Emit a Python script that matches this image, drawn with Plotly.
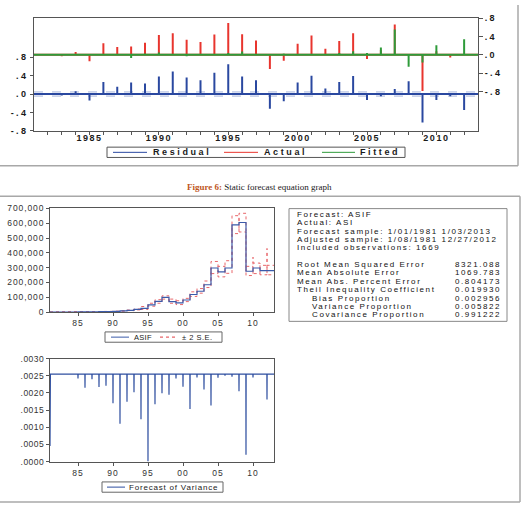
import plotly.graph_objects as go

W, H = 532, 508

# ---------------- Top panel: Residual / Actual / Fitted (year-start spikes) ----------------
spike_years = list(range(1982, 2013))
residual = [0.01, -0.03, 0.06, -0.14, 0.26, 0.16, 0.25, 0.23, 0.38, 0.49, 0.36, 0.30, 0.46, 0.65,
            0.38, 0.30, -0.32, -0.16, 0.25, 0.40, 0.12, 0.26, 0.39, -0.13, -0.05, 0.11, 0.28,
            -0.62, -0.13, -0.05, -0.35]
actual = [0.01, -0.03, 0.06, -0.14, 0.25, 0.17, 0.18, 0.26, 0.43, 0.47, 0.33, 0.28, 0.44, 0.69,
          0.45, 0.31, -0.31, -0.13, 0.24, 0.42, 0.13, 0.30, 0.47, -0.09, 0.11, 0.66, 0.02,
          -0.79, 0.08, -0.06, -0.01]
fitted = [0.0, 0.0, 0.0, 0.0, -0.01, 0.01, -0.07, 0.03, 0.05, -0.02, -0.03, -0.02, -0.02, 0.04,
          0.07, 0.01, 0.01, 0.03, -0.01, 0.02, 0.01, 0.04, 0.08, 0.04, 0.16, 0.55, -0.26,
          -0.17, 0.21, -0.01, 0.34]
residual_se = 0.045
top_tick_vals = [-0.8, -0.4, 0.0, 0.4, 0.8]
top_tick_text = ["-.8", "-.4", ".0", ".4", ".8"]
year_labels = {1985: "1985", 1990: "1990", 1995: "1995", 2000: "2000", 2005: "2005", 2010: "2010"}

# ---------------- Forecast panel: ASIF with +/- 2 S.E. ----------------
asif_years = list(range(1981, 2013))
asif = [700, 800, 900, 1000, 1200, 1500, 2000, 3000, 4000, 5000, 8000, 12000, 18000, 26000,
        49000, 73000, 99000, 71000, 62000, 82000, 119000, 141000, 185000, 298000, 272000,
        298000, 589000, 605000, 276000, 298000, 280000, 280000]
se_upper = [800, 900, 1000, 1100, 1400, 1700, 2300, 3400, 4500, 5700, 9000, 14000, 21000, 38000,
            60000, 84000, 110000, 88000, 77000, 93000, 137000, 159000, 210000, 342000, 309000,
            347000, 651000, 667000, 309000, 331000, 316000, 316000]
se_lower = [600, 700, 800, 900, 1000, 1300, 1700, 2600, 3500, 4300, 7000, 10000, 15000, 18000,
            40000, 60000, 88000, 60000, 51000, 71000, 106000, 128000, 166000, 260000, 238000,
            262000, 530000, 541000, 247000, 260000, 252000, 252000]
upper_spike_years = [2010, 2012]
upper_spike_vals = [371000, 430000]
asif_tick_vals = [0, 100000, 200000, 300000, 400000, 500000, 600000, 700000]
short_ticks = [1985, 1990, 1995, 2000, 2005, 2010]
short_labels = ["85", "90", "95", "00", "05", "10"]

# ---------------- Variance panel ----------------
var_level = 0.00255
var_first_weeks = [0.00045, 0.0016, 0.0023]
var_dip_years = list(range(1985, 2013))
var_dips = [0.00242, 0.00215, 0.0024, 0.00217, 0.00221, 0.0017, 0.0011, 0.00174, 0.00202,
            0.00123, 0.0000, 0.00167, 0.00199, 0.00195, 0.00242, 0.00218, 0.00153, 0.00245,
            0.0021, 0.00163, 0.00244, 0.0025, 0.00247, 0.00205, 0.0002, 0.00245, 0.00255,
            0.00181]
var_tick_vals = [0, 0.0005, 0.001, 0.0015, 0.002, 0.0025, 0.003]
var_tick_text = [".0000", ".0005", ".0010", ".0015", ".0020", ".0025", ".0030"]

# ---------------- Forecast evaluation statistics ----------------
info_lines = ["Forecast: ASIF", "Actual: ASI", "Forecast sample: 1/01/1981 1/03/2013",
              "Adjusted sample: 1/08/1981 12/27/2012", "Included observations: 1669"]
stat_names = ["Root Mean Squared Error", "Mean Absolute Error", "Mean Abs. Percent Error",
              "Theil Inequality Coefficient", "Bias Proportion", "Variance Proportion",
              "Covariance Proportion"]
stat_values = ["8321.088", "1069.783", "0.804173", "0.019930", "0.002956", "0.005822", "0.991222"]
stat_indent = [False, False, False, False, True, True, True]

# ---------------- colours / fonts ----------------
BLUE = "#2A48A0"
RED = "#E8352E"
GREEN = "#2E9B3A"
AX = "#555555"
FRAME = "#A8A8A8"
FONT = "Liberation Sans"
TXT = "#1A1A1A"


def sp(s, ls, bold=False):
    """text with letter spacing (EViews-style tracking)"""
    if not s:
        return ""
    t = '<span style="letter-spacing:%.2fpx">%s</span>' % (ls, s)
    return "<b>%s</b>" % t if bold else t


def px(x):
    return x / W


def py(y):
    return 1 - y / H


def spike_path(years, vals, x0, x1):
    xs, ys = [x0], [0]
    for yr, v in zip(years, vals):
        xs += [yr, yr, yr]
        ys += [0, v, 0]
    xs.append(x1)
    ys.append(0)
    return xs, ys


def band_path(years, level, band, spikes):
    xs, ys = [], []
    for yr, lv, b in zip(years, level, band):
        xs.append(yr)
        ys.append(lv)
        if yr in spikes:
            xs += [yr, yr]
            ys += [spikes[yr], lv]
        xs += [yr, yr + 1]
        ys += [b, b]
    return xs, ys


fig = go.Figure()

# ---- top panel traces ----
for s in (residual_se, -residual_se):
    fig.add_trace(go.Scatter(x=[1981, 2013], y=[s, s], mode="lines",
                             line=dict(color="#A6B4DA", width=1, dash="dash"),
                             xaxis="x", yaxis="y", hoverinfo="skip"))
rx, ry = spike_path(spike_years, residual, 1981, 2013)
fig.add_trace(go.Scatter(x=rx, y=ry, mode="lines", name="Residual",
                         line=dict(color=BLUE, width=2), xaxis="x", yaxis="y"))
ax_, ay_ = spike_path(spike_years, actual, 1981, 2013)
fig.add_trace(go.Scatter(x=ax_, y=ay_, mode="lines", name="Actual",
                         line=dict(color=RED, width=2), xaxis="x", yaxis="y2"))
fx, fy = spike_path(spike_years, fitted, 1981, 2013)
fig.add_trace(go.Scatter(x=fx, y=fy, mode="lines", name="Fitted",
                         line=dict(color=GREEN, width=2), xaxis="x", yaxis="y2"))

# ---- forecast panel traces ----
spk = dict(zip(upper_spike_years, upper_spike_vals))
ux, uy = band_path(asif_years, asif, se_upper, spk)
lx, ly = band_path(asif_years, asif, se_lower, {})
fig.add_trace(go.Scatter(x=ux, y=uy, mode="lines", name="± 2 S.E.",
                         line=dict(color="#E8676B", width=1, dash="dot"), xaxis="x2", yaxis="y3"))
fig.add_trace(go.Scatter(x=lx, y=ly, mode="lines", showlegend=False,
                         line=dict(color="#E8676B", width=1, dash="dot"), xaxis="x2", yaxis="y3"))
fig.add_trace(go.Scatter(x=asif_years + [2013], y=asif + [asif[-1]], mode="lines", name="ASIF",
                         line=dict(color="#3B5BAA", width=1.2, shape="hv"), xaxis="x2", yaxis="y3"))

# ---- variance panel trace ----
vx = [1981 + i / 52 for i in range(len(var_first_weeks))]
vy = list(var_first_weeks)
vx.append(1981 + len(var_first_weeks) / 52)
vy.append(var_level)
for yr, d in zip(var_dip_years, var_dips):
    vx += [yr - 1 / 52, yr, yr + 1 / 52]
    vy += [var_level, d, var_level]
vx.append(2013)
vy.append(var_level)
fig.add_trace(go.Scatter(x=vx, y=vy, mode="lines", name="Forecast of Variance",
                         line=dict(color="#2F4FA0", width=1.2), xaxis="x3", yaxis="y4"))

axis_common = dict(showline=True, linecolor=AX, linewidth=1, mirror=True, showgrid=False,
                   zeroline=False, ticks="outside", ticklen=3, tickcolor=AX, tickwidth=1)

yrs_all = list(range(1982, 2013))
top_font = dict(size=9, family=FONT, color=TXT)
low_font = dict(size=8.5, family=FONT, color="#333")
fig.update_layout(
    width=W, height=H, margin=dict(l=0, r=0, t=0, b=0),
    paper_bgcolor="white", plot_bgcolor="white", showlegend=False,
    font=dict(family=FONT, color=TXT),
    xaxis=dict(domain=[px(34), px(478)], range=[1981, 2013], anchor="y",
               tickvals=yrs_all, ticktext=[sp(year_labels.get(v, ""), 1.5, True) for v in yrs_all],
               tickfont=top_font, ticklabelstandoff=-5, **axis_common),
    yaxis=dict(domain=[py(128.3), py(13.3)], range=[-0.8, 1.653], anchor="x",
               tickvals=top_tick_vals, ticktext=[sp(t, 2.3, True) for t in top_tick_text],
               tickfont=top_font, **axis_common),
    yaxis2=dict(overlaying="y", side="right", range=[-1.653, 0.8], anchor="x",
                tickvals=top_tick_vals, ticktext=[sp(t, 2.3, True) for t in top_tick_text],
                tickfont=top_font,
                showline=True, linecolor=AX, showgrid=False, zeroline=False,
                ticks="outside", ticklen=4, tickcolor=AX),
    xaxis2=dict(domain=[px(50), px(274)], range=[1981, 2013], anchor="y3",
                tickvals=short_ticks, ticktext=[sp(t, 1.0) for t in short_labels],
                tickfont=low_font, **axis_common),
    yaxis3=dict(domain=[py(313.3), py(207.5)], range=[0, 700000], anchor="x2",
                tickvals=asif_tick_vals, ticktext=[sp(f"{v:,}", 0.9) for v in asif_tick_vals],
                tickfont=low_font, **axis_common),
    xaxis3=dict(domain=[px(50), px(274)], range=[1981, 2013], anchor="y4",
                tickvals=short_ticks, ticktext=[sp(t, 1.0) for t in short_labels],
                tickfont=low_font, **axis_common),
    yaxis4=dict(domain=[py(465.7), py(360.7)], range=[0, 0.003], anchor="x3",
                tickvals=var_tick_vals, ticktext=[sp(t, 0.5) for t in var_tick_text],
                tickfont=low_font, **axis_common),
)

shapes = []
annotations = []


def line_shape(x0, y0, x1, y1, color, width=1, dash="solid"):
    shapes.append(dict(type="line", xref="paper", yref="paper", x0=px(x0), y0=py(y0),
                       x1=px(x1), y1=py(y1), line=dict(color=color, width=width, dash=dash)))


def rect_shape(x0, y0, x1, y1, color, width=1):
    shapes.append(dict(type="rect", xref="paper", yref="paper", x0=px(x0), y0=py(y0),
                       x1=px(x1), y1=py(y1), line=dict(color=color, width=width)))


def text(x, y, s, size, anchor="left", color=TXT, family=FONT):
    annotations.append(dict(xref="paper", yref="paper", x=px(x), y=py(y), text=s,
                            showarrow=False, xanchor=anchor, yanchor="middle", borderpad=0,
                            font=dict(size=size, family=family, color=color)))


# outer frames
line_shape(0, 164, 518, 164, FRAME, 1.5)
line_shape(518, 0, 518, 164, FRAME, 1.5)
line_shape(0, 195, 520, 195, FRAME, 1.5)
line_shape(520, 195, 520, 507, FRAME, 1.5)
line_shape(0, 507, 520, 507, FRAME, 1.5)

# top legend
rect_shape(107, 145, 405, 155.5, "#555")
line_shape(113, 150.3, 147, 150.3, BLUE, 1)
text(152, 150.3, sp("Residual", 2.6, True), 9)
line_shape(224, 150.3, 258, 150.3, RED, 1)
text(263, 150.3, sp("Actual", 2.6, True), 9)
line_shape(322, 150.3, 355, 150.3, GREEN, 1)
text(359, 150.3, sp("Fitted", 2.6, True), 9)

# caption
text(259.5, 186, '<span style="color:#C0561E"><b>Figure 6:</b></span> Static forecast equation graph',
     9, anchor="center", family="Liberation Serif")

# forecast legend
rect_shape(105, 333.5, 222, 344, "#666")
line_shape(111, 338.8, 129, 338.8, "#3B5BAA", 1)
text(133, 338.8, sp("ASIF", 0.3), 7.5)
line_shape(160, 338.8, 178, 338.8, "#E8676B", 1.2, "dot")
text(181, 338.8, sp("± 2 S.E.", 0.5), 7.5)

# variance legend
rect_shape(102, 486.5, 223, 497, "#666")
line_shape(107, 491.8, 125, 491.8, "#2F4FA0", 1)
text(127.5, 491.8, sp("Forecast of Variance", 0.8), 8)

# statistics box
rect_shape(289, 207.7, 507, 322.7, "#888")
row_y0, row_dy = 213.7, 8.52
LS = 1.6
for i, s in enumerate(info_lines):
    text(296, row_y0 + i * row_dy, sp(s, LS), 8, color="#111")
for j, (name, val, ind) in enumerate(zip(stat_names, stat_values, stat_indent)):
    yy = row_y0 + (j + 6) * row_dy
    text(311 if ind else 296, yy, sp(name, LS), 8, color="#111")
    text(501.5, yy, sp(val, LS), 8, anchor="right", color="#111")

fig.update_layout(shapes=shapes, annotations=annotations)
fig.write_html("out.html")
